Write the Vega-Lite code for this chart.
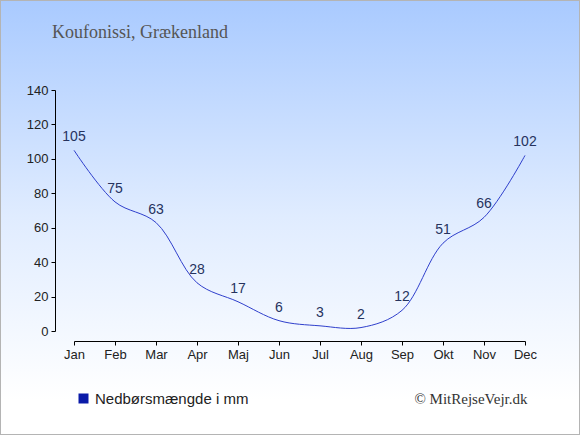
{
  "$schema": "https://vega.github.io/schema/vega-lite/v6.json",
  "width": 580,
  "height": 435,
  "autosize": "none",
  "padding": 0,
  "background": "white",
  "title": {
    "text": "Koufonissi, Grækenland",
    "anchor": "start",
    "frame": "group",
    "orient": "top",
    "offset": -56,
    "dx": 52,
    "baseline": "alphabetic",
    "font": "Liberation Serif",
    "fontSize": 18,
    "fontWeight": "normal",
    "color": "#555555"
  },
  "data": {
    "values": [
      {"month": "Jan", "mm": 105},
      {"month": "Feb", "mm": 75},
      {"month": "Mar", "mm": 63},
      {"month": "Apr", "mm": 28},
      {"month": "Maj", "mm": 17},
      {"month": "Jun", "mm": 6},
      {"month": "Jul", "mm": 3},
      {"month": "Aug", "mm": 2},
      {"month": "Sep", "mm": 12},
      {"month": "Okt", "mm": 51},
      {"month": "Nov", "mm": 66},
      {"month": "Dec", "mm": 102}
    ]
  },
  "encoding": {
    "x": {
      "field": "month",
      "type": "ordinal",
      "sort": null,
      "scale": {"type": "point", "range": [74, 525], "padding": 0},
      "axis": {
        "title": "© MitRejseVejr.dk",
        "titleFont": "Liberation Serif",
        "titleFontSize": 15,
        "titleFontWeight": "normal",
        "titleColor": "#333333",
        "titleAlign": "right",
        "titleAnchor": null,
        "titleX": 527,
        "titleY": 62,
        "titleBaseline": "alphabetic",
        "offset": -94,
        "labelAngle": 0,
        "labelFont": "Liberation Sans",
        "labelFontSize": 13,
        "labelColor": "#222222",
        "labelPadding": 3,
        "domainColor": "#000000",
        "tickColor": "#000000",
        "tickSize": 4,
        "grid": false
      }
    },
    "y": {
      "field": "mm",
      "type": "quantitative",
      "scale": {"domain": [0, 140], "range": [331, 90], "nice": false, "zero": true},
      "axis": {
        "title": null,
        "offset": -55,
        "values": [0, 20, 40, 60, 80, 100, 120, 140],
        "labelFont": "Liberation Sans",
        "labelFontSize": 13,
        "labelColor": "#222222",
        "labelPadding": 3,
        "domainColor": "#000000",
        "tickColor": "#000000",
        "tickSize": 4,
        "grid": false
      }
    }
  },
  "layer": [
    {
      "mark": {"type": "line", "interpolate": "catmull-rom", "strokeWidth": 1},
      "encoding": {
        "color": {
          "datum": "Nedbørsmængde i mm",
          "scale": {"range": ["#2f3fcc"]},
          "legend": {
            "title": null,
            "orient": "none",
            "legendX": 76,
            "legendY": 391,
            "symbolType": "square",
            "symbolSize": 100,
            "symbolStrokeWidth": 0,
            "labelFont": "Liberation Sans",
            "labelFontSize": 15,
            "labelColor": "#222222",
            "labelOffset": 4,
            "encode": {
              "symbols": {
                "update": {
                  "fill": {"value": "#0a1aa8"},
                  "stroke": {"value": "#0a1aa8"},
                  "strokeWidth": {"value": 0},
                  "opacity": {"value": 1}
                }
              }
            }
          }
        }
      }
    },
    {
      "mark": {
        "type": "text",
        "dy": -9,
        "baseline": "alphabetic",
        "align": "center",
        "font": "Liberation Sans",
        "fontSize": 14,
        "color": "#26335e"
      },
      "encoding": {
        "text": {"field": "mm", "type": "quantitative"}
      }
    }
  ],
  "config": {
    "view": {
      "fill": {
        "gradient": "linear",
        "x1": 0, "y1": 0, "x2": 0, "y2": 1,
        "stops": [
          {"offset": 0, "color": "#a9caff"},
          {"offset": 0.5, "color": "#e0ecff"},
          {"offset": 0.92, "color": "#ffffff"}
        ]
      },
      "stroke": "#b4b4b4",
      "strokeWidth": 2
    }
  }
}
